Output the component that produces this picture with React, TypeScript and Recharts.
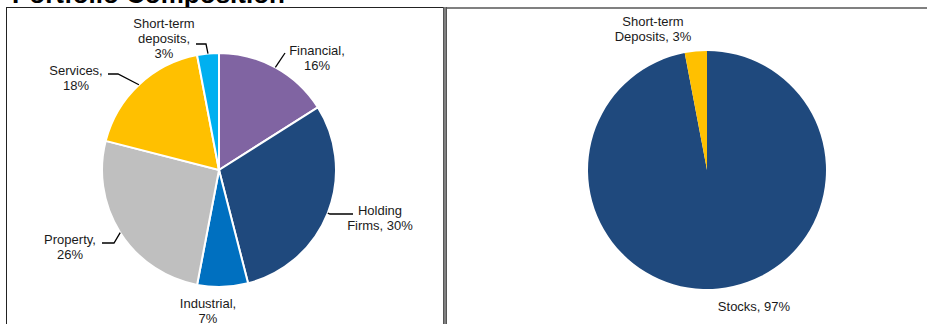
import { PieChart, Pie, Cell } from 'recharts';

// sector split (left) and asset split (right), in %
const sectorNames = ['Financial', 'Holding Firms', 'Industrial', 'Property', 'Services', 'Short-term deposits'];
const sectorValues = [16, 30, 7, 26, 18, 3];
const sectorColors = ['#8064A2', '#1F497D', '#0070C0', '#BFBFBF', '#FFC000', '#00B0F0'];

const assetNames = ['Stocks', 'Short-term Deposits'];
const assetValues = [97, 3];
const assetColors = ['#1F497D', '#FFC000'];

// label text lines per slice
const sectorLabelLines: Record<string, string[]> = {
  'Financial': ['Financial,', '16%'],
  'Holding Firms': ['Holding', 'Firms, 30%'],
  'Industrial': ['Industrial,', '7%'],
  'Property': ['Property,', '26%'],
  'Services': ['Services,', '18%'],
  'Short-term deposits': ['Short-term', 'deposits,', '3%'],
};
const assetLabelLines: Record<string, string[]> = {
  'Stocks': ['Stocks, 97%'],
  'Short-term Deposits': ['Short-term', 'Deposits, 3%'],
};

// label placement relative to pie centre: text centre of first line + leader elbow points
type LabelPos = { dx: number; dy: number; leader?: [number, number][] };
const sectorLabelPos: Record<string, LabelPos> = {
  'Financial': { dx: 98, dy: -120, leader: [[66, -117]] },
  'Holding Firms': { dx: 161, dy: 40, leader: [[111, 44], [134, 44]] },
  'Industrial': { dx: -11, dy: 133 },
  'Property': { dx: -149, dy: 69, leader: [[-105, 73], [-117, 73]] },
  'Services': { dx: -143, dy: -100, leader: [[-101, -96], [-111, -96]] },
  'Short-term deposits': { dx: -55, dy: -147, leader: [[-13, -126], [-23, -126]] },
};
const assetLabelPos: Record<string, LabelPos> = {
  'Stocks': { dx: 47, dy: 136 },
  'Short-term Deposits': { dx: -54, dy: -149 },
};

const sectorData = sectorNames.map((name, i) => ({ name, value: sectorValues[i] }));
const assetData = assetNames.map((name, i) => ({ name, value: assetValues[i] }));

const RADIAN = Math.PI / 180;
const FONT = '"Liberation Sans", Arial, sans-serif';

const makeLabel = (lines: Record<string, string[]>, pos: Record<string, LabelPos>) => (props: any) => {
  const { cx, cy, midAngle, outerRadius, name } = props;
  const p = pos[name];
  const txt = lines[name];
  if (!p || !txt) return null;
  const ex = cx + outerRadius * Math.cos(-midAngle * RADIAN);
  const ey = cy + outerRadius * Math.sin(-midAngle * RADIAN);
  const pts = p.leader ? [[ex, ey], ...p.leader.map(([x, y]) => [cx + x, cy + y])] : null;
  return (
    <g key={`lbl-${name}`}>
      {pts && (
        <polyline
          points={pts.map((q) => q.join(',')).join(' ')}
          fill="none"
          stroke="#000"
          strokeWidth={1.3}
        />
      )}
      <text x={cx + p.dx} y={cy + p.dy + 4.5} textAnchor="middle" fontFamily={FONT} fontSize={13} fill="#1a1a1a">
        {txt.map((t, i) => (
          <tspan key={i} x={cx + p.dx} dy={i === 0 ? 0 : 15}>
            {t}
          </tspan>
        ))}
      </text>
    </g>
  );
};

export default function App() {
  return (
    <div style={{ position: 'absolute', left: 0, top: 0, width: 927, height: 324, background: '#fff', overflow: 'hidden' }}>
      <div
        style={{
          position: 'absolute',
          left: 12,
          top: -21,
          fontFamily: FONT,
          fontWeight: 'bold',
          fontSize: 26,
          lineHeight: '30px',
          color: '#000',
          whiteSpace: 'nowrap',
        }}
      >
        Portfolio Composition
      </div>
      {/* panel frames */}
      <div style={{ position: 'absolute', left: 6, top: 7, width: 437, height: 330, borderLeft: '1px solid #222', borderTop: '1px solid #222' }} />
      <div style={{ position: 'absolute', left: 443, top: 7, width: 4, height: 330, background: '#7f7f7f', borderLeft: '1px solid #555', borderRight: '1px solid #555', boxSizing: 'border-box' }} />
      <div style={{ position: 'absolute', left: 447, top: 7, width: 480, height: 2, background: '#808080' }} />
      <div style={{ position: 'absolute', left: 0, top: 0 }}>
        <PieChart width={927} height={324} margin={{ top: 0, right: 0, bottom: 0, left: 0 }}>
          <Pie
            data={sectorData}
            dataKey="value"
            nameKey="name"
            cx={219}
            cy={170}
            outerRadius={117}
            startAngle={90}
            endAngle={-270}
            stroke="#fff"
            strokeWidth={2}
            labelLine={false}
            label={makeLabel(sectorLabelLines, sectorLabelPos)}
            isAnimationActive={false}
          >
            {sectorData.map((d, i) => (
              <Cell key={d.name} fill={sectorColors[i]} />
            ))}
          </Pie>
          <Pie
            data={assetData}
            dataKey="value"
            nameKey="name"
            cx={707}
            cy={170}
            outerRadius={119}
            startAngle={90}
            endAngle={-270}
            stroke="none"
            labelLine={false}
            label={makeLabel(assetLabelLines, assetLabelPos)}
            isAnimationActive={false}
          >
            {assetData.map((d, i) => (
              <Cell key={d.name} fill={assetColors[i]} />
            ))}
          </Pie>
        </PieChart>
      </div>
    </div>
  );
}
